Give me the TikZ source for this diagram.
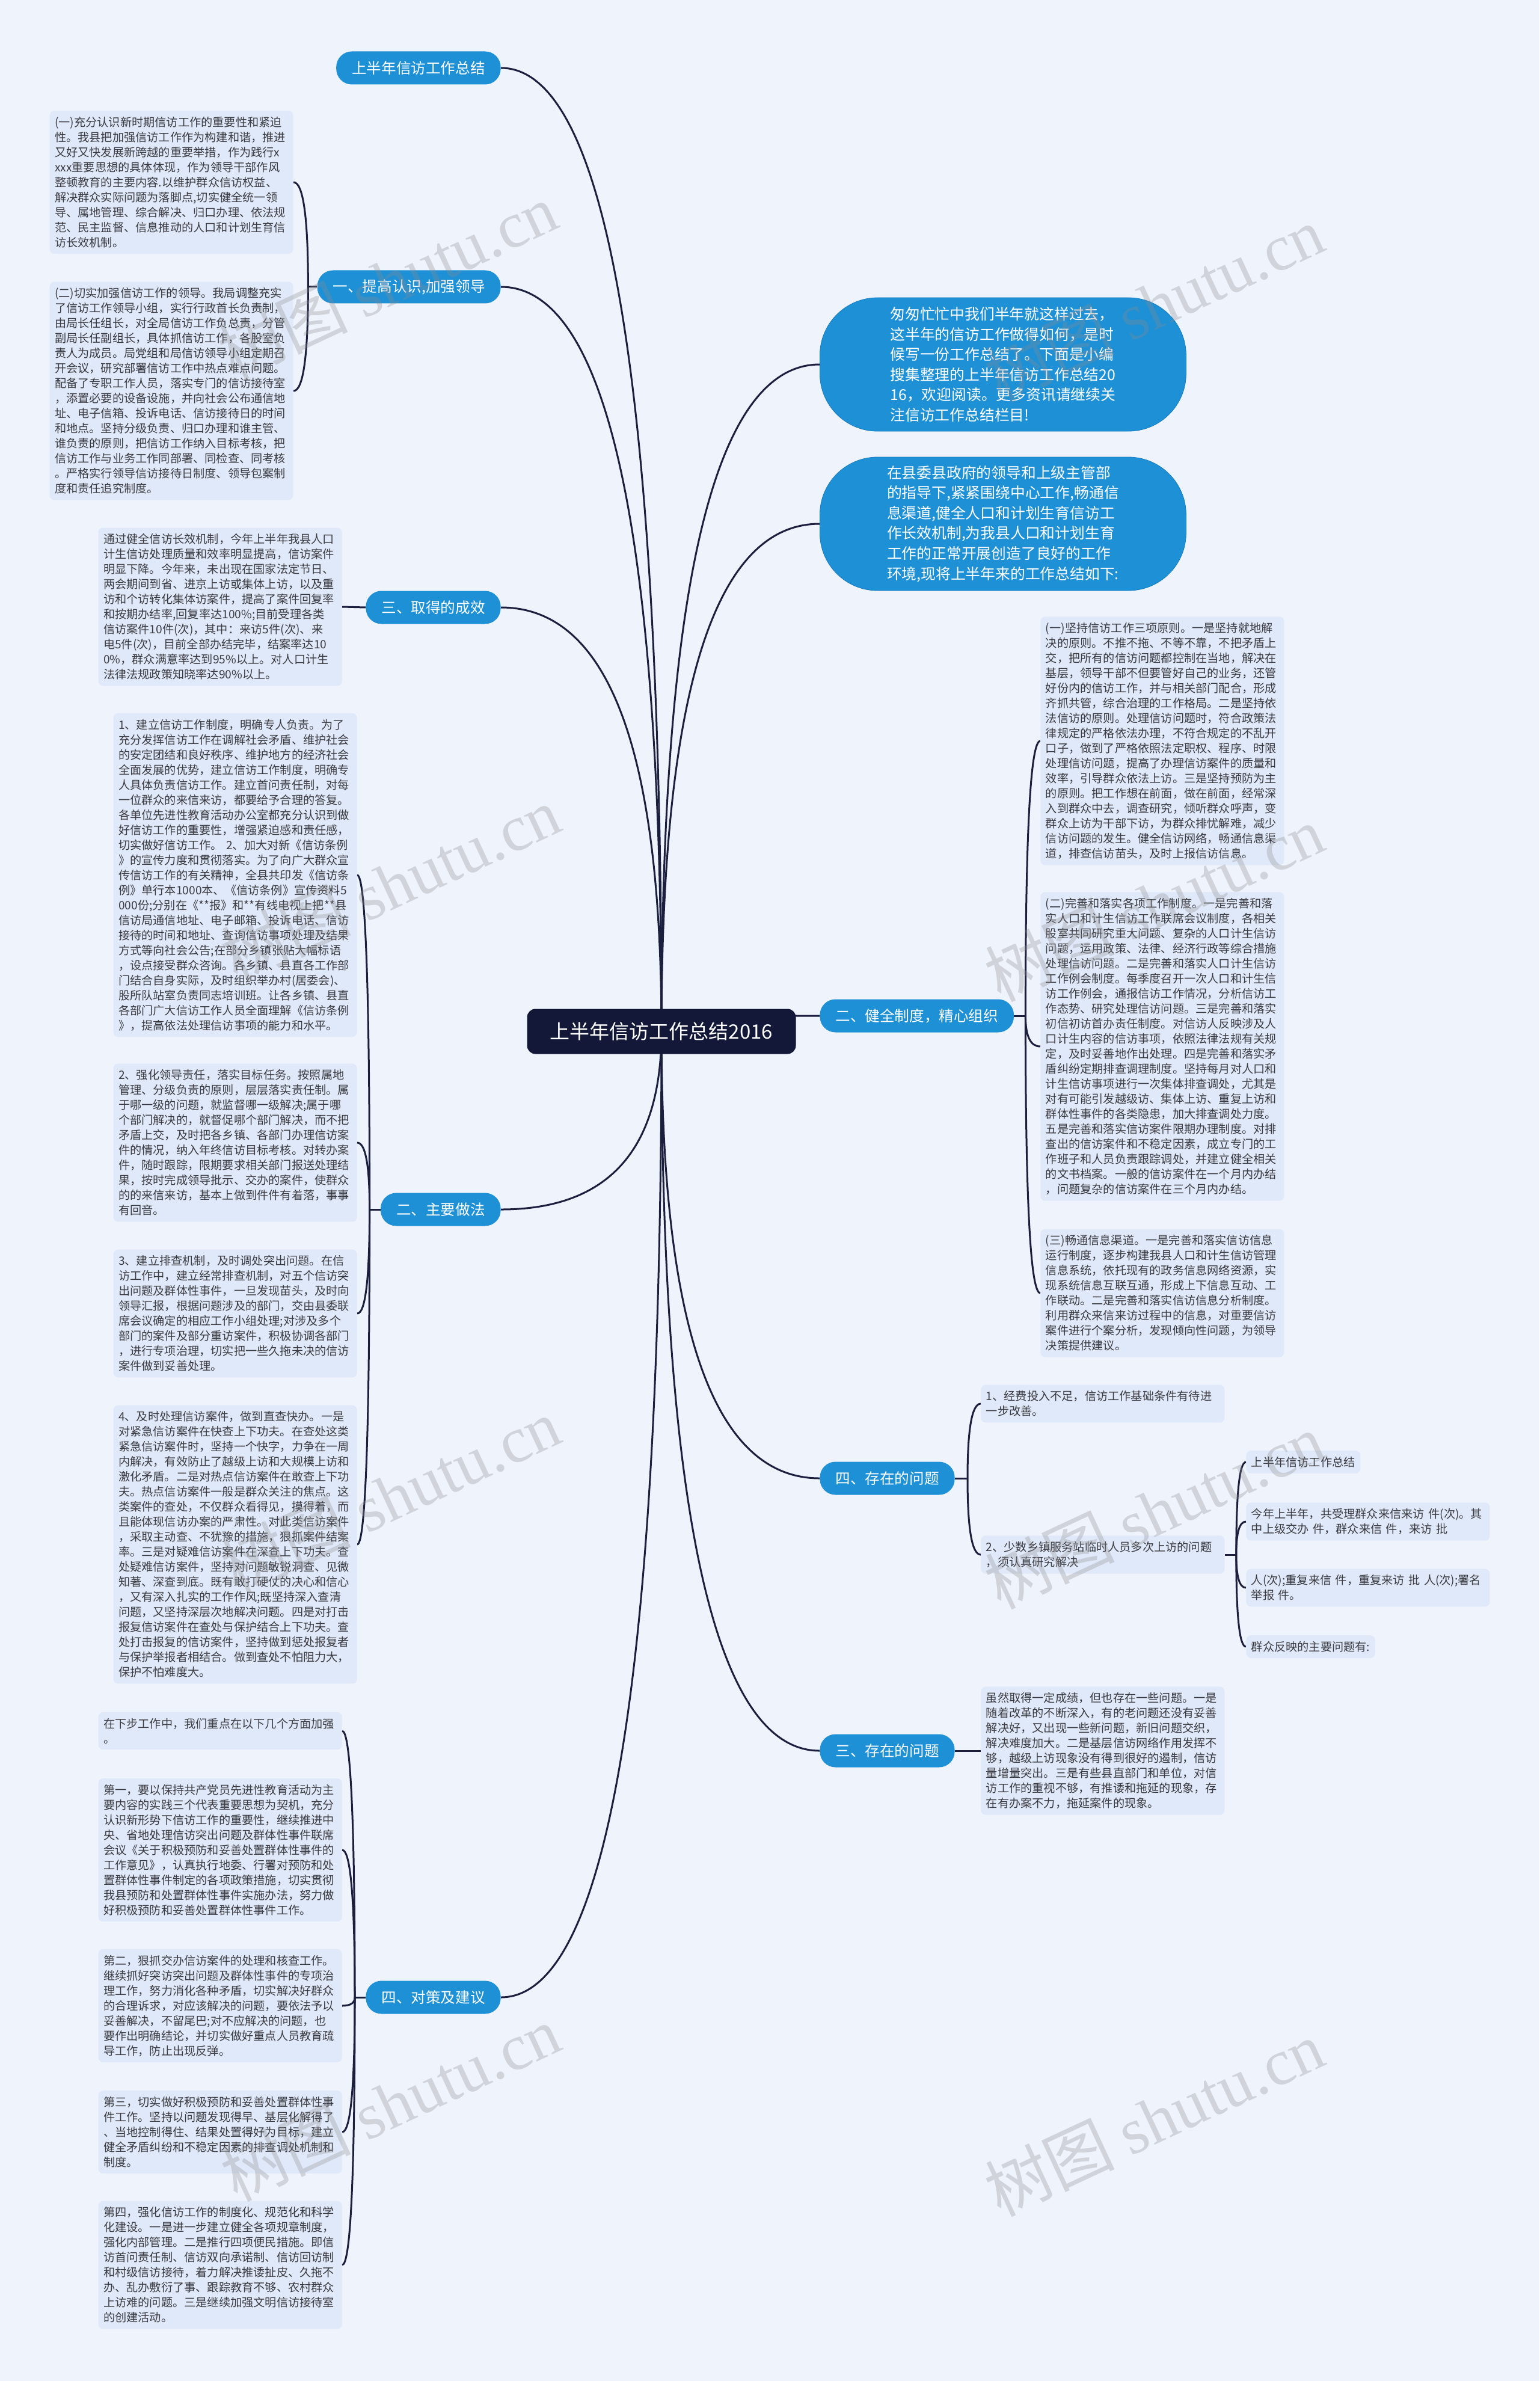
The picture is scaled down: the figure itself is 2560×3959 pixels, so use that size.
\documentclass[tikz,border=0pt]{standalone}
\usepackage{fontspec}
\setmainfont{Noto Sans CJK SC}
\newfontfamily\wmfont{Liberation Serif}
\usetikzlibrary{calc}

\definecolor{pagebg}{RGB}{238,243,252}
\definecolor{leaffill}{RGB}{224,233,249}
\definecolor{pillblue}{RGB}{29,144,214}
\definecolor{pillline}{RGB}{22,122,192}
\definecolor{rootnavy}{RGB}{20,24,56}
\definecolor{wireink}{RGB}{28,30,62}
\definecolor{leafink}{RGB}{58,58,64}

\pgfdeclarelayer{paper}
\pgfdeclarelayer{wires}
\pgfsetlayers{paper,wires,main}

% curved connector: leaves #1 vertically, enters #2 horizontally
\newcommand{\bendwire}[2]{%
  \draw[wire] (#1) .. controls ($(#1)!0.667!(#1 |- #2)$) and ($(#2)!0.667!(#1 |- #2)$) .. (#2);}

\begin{document}
\begin{tikzpicture}[
    x=0.5pt, y=-0.5pt,
    root/.style={rectangle, rounded corners=7pt, fill=rootnavy, text=white, font=\fontsize{16.5}{20}\selectfont, minimum width=223.5pt, minimum height=37.5pt},
    branch/.style={rectangle, rounded corners=13pt, fill=pillblue, text=white, font=\fontsize{12.3}{15}\selectfont, minimum height=27.5pt, inner xsep=13pt},
    bubble/.style={rectangle, rounded corners=48pt, fill=pillblue, draw=pillline, text=white, align=left, font=\fontsize{12.4}{16.8}\selectfont, minimum width=304.5pt, minimum height=111pt},
    card/.style={rectangle, rounded corners=4pt, fill=leaffill, text=leafink, align=left, inner xsep=4.25pt, inner ysep=5pt, font=\fontsize{9.6}{12.5}\selectfont},
    leaf/.style={card, text width=194pt},
    wire/.style={draw=wireink, line width=1.5pt},
    stamp/.style={text=black!45, text opacity=0.3, rotate=25, font=\fontsize{54}{54}\selectfont}
  ]
  \useasboundingbox (0,0) rectangle (2560,3959);
  \begin{pgfonlayer}{paper}
    \fill[pagebg] (0,0) rectangle (2560,3959);
  \end{pgfonlayer}

  % root and main branches
  \node[root] (root) at (1100,1715) {上半年信访工作总结2016};
  \node[branch, anchor=east] (l1) at (833,113) {上半年信访工作总结};
  \node[branch, anchor=east] (l2) at (833,477) {一、提高认识,加强领导};
  \node[branch, anchor=east] (l3) at (833,1010) {三、取得的成效};
  \node[branch, anchor=east] (l4) at (833,2011) {二、主要做法};
  \node[branch, anchor=east] (l5) at (833,3321) {四、对策及建议};
  \node[bubble, anchor=west] (r1) at (1363,606) {匆匆忙忙中我们半年就这样过去，\\这半年的信访工作做得如何，是时\\候写一份工作总结了。下面是小编\\搜集整理的上半年信访工作总结20\\16，欢迎阅读。更多资讯请继续关\\注信访工作总结栏目!};
  \node[bubble, anchor=west] (r2) at (1363,871) {在县委县政府的领导和上级主管部\\的指导下,紧紧围绕中心工作,畅通信\\息渠道,健全人口和计划生育信访工\\作长效机制,为我县人口和计划生育\\工作的正常开展创造了良好的工作\\环境,现将上半年来的工作总结如下:};
  \node[branch, anchor=west] (r3) at (1363,1689) {二、健全制度，精心组织};
  \node[branch, anchor=west] (r4) at (1363,2458) {四、存在的问题};
  \node[branch, anchor=west] (r5) at (1363,2911) {三、存在的问题};

  % left leaves
  \node[leaf, anchor=east] (a1) at (488,303) {(一)充分认识新时期信访工作的重要性和紧迫\\性。我县把加强信访工作作为构建和谐，推进\\又好又快发展新跨越的重要举措，作为践行x\\xxx重要思想的具体体现，作为领导干部作风\\整顿教育的主要内容.以维护群众信访权益、\\解决群众实际问题为落脚点,切实健全统一领\\导、属地管理、综合解决、归口办理、依法规\\范、民主监督、信息推动的人口和计划生育信\\访长效机制。};
  \node[leaf, anchor=east] (a2) at (488,650) {(二)切实加强信访工作的领导。我局调整充实\\了信访工作领导小组，实行行政首长负责制，\\由局长任组长，对全局信访工作负总责，分管\\副局长任副组长，具体抓信访工作，各股室负\\责人为成员。局党组和局信访领导小组定期召\\开会议，研究部署信访工作中热点难点问题。\\配备了专职工作人员，落实专门的信访接待室\\，添置必要的设备设施，并向社会公布通信地\\址、电子信箱、投诉电话、信访接待日的时间\\和地点。坚持分级负责、归口办理和谁主管、\\谁负责的原则，把信访工作纳入目标考核，把\\信访工作与业务工作同部署、同检查、同考核\\。严格实行领导信访接待日制度、领导包案制\\度和责任追究制度。};
  \node[leaf, anchor=east] (b1) at (569,1009) {通过健全信访长效机制，今年上半年我县人口\\计生信访处理质量和效率明显提高，信访案件\\明显下降。今年来，未出现在国家法定节日、\\两会期间到省、进京上访或集体上访，以及重\\访和个访转化集体访案件，提高了案件回复率\\和按期办结率,回复率达100\%;目前受理各类\\信访案件10件(次)，其中：来访5件(次)、来\\电5件(次)，目前全部办结完毕，结案率达10\\0\%，群众满意率达到95\%以上。对人口计生\\法律法规政策知晓率达90\%以上。};
  \node[leaf, anchor=east] (c1) at (594,1455) {1、建立信访工作制度，明确专人负责。为了\\充分发挥信访工作在调解社会矛盾、维护社会\\的安定团结和良好秩序、维护地方的经济社会\\全面发展的优势，建立信访工作制度，明确专\\人具体负责信访工作。建立首问责任制，对每\\一位群众的来信来访，都要给予合理的答复。\\各单位先进性教育活动办公室都充分认识到做\\好信访工作的重要性，增强紧迫感和责任感，\\切实做好信访工作。 2、加大对新《信访条例\\》的宣传力度和贯彻落实。为了向广大群众宣\\传信访工作的有关精神，全县共印发《信访条\\例》单行本1000本、《信访条例》宣传资料5\\000份;分别在《**报》和**有线电视上把**县\\信访局通信地址、电子邮箱、投诉电话、信访\\接待的时间和地址、查询信访事项处理及结果\\方式等向社会公告;在部分乡镇张贴大幅标语\\，设点接受群众咨询。各乡镇、县直各工作部\\门结合自身实际，及时组织举办村(居委会)、\\股所队站室负责同志培训班。让各乡镇、县直\\各部门广大信访工作人员全面理解《信访条例\\》，提高依法处理信访事项的能力和水平。};
  \node[leaf, anchor=east] (c2) at (594,1900) {2、强化领导责任，落实目标任务。按照属地\\管理、分级负责的原则，层层落实责任制。属\\于哪一级的问题，就监督哪一级解决;属于哪\\个部门解决的，就督促哪个部门解决，而不把\\矛盾上交，及时把各乡镇、各部门办理信访案\\件的情况，纳入年终信访目标考核。对转办案\\件，随时跟踪，限期要求相关部门报送处理结\\果，按时完成领导批示、交办的案件，使群众\\的的来信来访，基本上做到件件有着落，事事\\有回音。};
  \node[leaf, anchor=east] (c3) at (594,2184) {3、建立排查机制，及时调处突出问题。在信\\访工作中，建立经常排查机制，对五个信访突\\出问题及群体性事件，一旦发现苗头，及时向\\领导汇报，根据问题涉及的部门，交由县委联\\席会议确定的相应工作小组处理;对涉及多个\\部门的案件及部分重访案件，积极协调各部门\\，进行专项治理，切实把一些久拖未决的信访\\案件做到妥善处理。};
  \node[leaf, anchor=east] (c4) at (594,2568) {4、及时处理信访案件，做到直查快办。一是\\对紧急信访案件在快查上下功夫。在查处这类\\紧急信访案件时，坚持一个快字，力争在一周\\内解决，有效防止了越级上访和大规模上访和\\激化矛盾。二是对热点信访案件在敢查上下功\\夫。热点信访案件一般是群众关注的焦点。这\\类案件的查处，不仅群众看得见，摸得着，而\\且能体现信访办案的严肃性。对此类信访案件\\，采取主动查、不犹豫的措施，狠抓案件结案\\率。三是对疑难信访案件在深查上下功夫。查\\处疑难信访案件，坚持对问题敏锐洞查、见微\\知著、深查到底。既有敢打硬仗的决心和信心\\，又有深入扎实的工作作风;既坚持深入查清\\问题，又坚持深层次地解决问题。四是对打击\\报复信访案件在查处与保护结合上下功夫。查\\处打击报复的信访案件，坚持做到惩处报复者\\与保护举报者相结合。做到查处不怕阻力大，\\保护不怕难度大。};
  \node[leaf, anchor=east] (d1) at (569,2878) {在下步工作中，我们重点在以下几个方面加强\\。};
  \node[leaf, anchor=east] (d2) at (569,3076) {第一，要以保持共产党员先进性教育活动为主\\要内容的实践三个代表重要思想为契机，充分\\认识新形势下信访工作的重要性，继续推进中\\央、省地处理信访突出问题及群体性事件联席\\会议《关于积极预防和妥善处置群体性事件的\\工作意见》，认真执行地委、行署对预防和处\\置群体性事件制定的各项政策措施，切实贯彻\\我县预防和处置群体性事件实施办法，努力做\\好积极预防和妥善处置群体性事件工作。};
  \node[leaf, anchor=east] (d3) at (569,3335) {第二，狠抓交办信访案件的处理和核查工作。\\继续抓好突访突出问题及群体性事件的专项治\\理工作，努力消化各种矛盾，切实解决好群众\\的合理诉求，对应该解决的问题，要依法予以\\妥善解决，不留尾巴;对不应解决的问题，也\\要作出明确结论，并切实做好重点人员教育疏\\导工作，防止出现反弹。};
  \node[leaf, anchor=east] (d4) at (569,3545) {第三，切实做好积极预防和妥善处置群体性事\\件工作。坚持以问题发现得早、基层化解得了\\、当地控制得住、结果处置得好为目标，建立\\健全矛盾纠纷和不稳定因素的排查调处机制和\\制度。};
  \node[leaf, anchor=east] (d5) at (569,3766) {第四，强化信访工作的制度化、规范化和科学\\化建设。一是进一步建立健全各项规章制度，\\强化内部管理。二是推行四项便民措施。即信\\访首问责任制、信访双向承诺制、信访回访制\\和村级信访接待，着力解决推诿扯皮、久拖不\\办、乱办敷衍了事、跟踪教育不够、农村群众\\上访难的问题。三是继续加强文明信访接待室\\的创建活动。};

  % right leaves
  \node[leaf, anchor=west] (e1) at (1730,1232) {(一)坚持信访工作三项原则。一是坚持就地解\\决的原则。不推不拖、不等不靠，不把矛盾上\\交，把所有的信访问题都控制在当地，解决在\\基层，领导干部不但要管好自己的业务，还管\\好份内的信访工作，并与相关部门配合，形成\\齐抓共管，综合治理的工作格局。二是坚持依\\法信访的原则。处理信访问题时，符合政策法\\律规定的严格依法办理，不符合规定的不乱开\\口子，做到了严格依照法定职权、程序、时限\\处理信访问题，提高了办理信访案件的质量和\\效率，引导群众依法上访。三是坚持预防为主\\的原则。把工作想在前面，做在前面，经常深\\入到群众中去，调查研究，倾听群众呼声，变\\群众上访为干部下访，为群众排忧解难，减少\\信访问题的发生。健全信访网络，畅通信息渠\\道，排查信访苗头，及时上报信访信息。};
  \node[leaf, anchor=west] (e2) at (1730,1740) {(二)完善和落实各项工作制度。一是完善和落\\实人口和计生信访工作联席会议制度，各相关\\股室共同研究重大问题、复杂的人口计生信访\\问题，运用政策、法律、经济行政等综合措施\\处理信访问题。二是完善和落实人口计生信访\\工作例会制度。每季度召开一次人口和计生信\\访工作例会，通报信访工作情况，分析信访工\\作态势、研究处理信访问题。三是完善和落实\\初信初访首办责任制度。对信访人反映涉及人\\口计生内容的信访事项，依照法律法规有关规\\定，及时妥善地作出处理。四是完善和落实矛\\盾纠纷定期排查调理制度。坚持每月对人口和\\计生信访事项进行一次集体排查调处，尤其是\\对有可能引发越级访、集体上访、重复上访和\\群体性事件的各类隐患，加大排查调处力度。\\五是完善和落实信访案件限期办理制度。对排\\查出的信访案件和不稳定因素，成立专门的工\\作班子和人员负责跟踪调处，并建立健全相关\\的文书档案。一般的信访案件在一个月内办结\\，问题复杂的信访案件在三个月内办结。};
  \node[leaf, anchor=west] (e3) at (1730,2150) {(三)畅通信息渠道。一是完善和落实信访信息\\运行制度，逐步构建我县人口和计生信访管理\\信息系统，依托现有的政务信息网络资源，实\\现系统信息互联互通，形成上下信息互动、工\\作联动。二是完善和落实信访信息分析制度。\\利用群众来信来访过程中的信息，对重要信访\\案件进行个案分析，发现倾向性问题，为领导\\决策提供建议。};
  \node[leaf, anchor=west] (f1) at (1631,2334) {1、经费投入不足，信访工作基础条件有待进\\一步改善。};
  \node[leaf, anchor=west] (f2) at (1631,2585) {2、少数乡镇服务站临时人员多次上访的问题\\，须认真研究解决};
  \node[card, anchor=west] (g1) at (2072,2431) {上半年信访工作总结};
  \node[leaf, anchor=west] (g2) at (2072,2530) {今年上半年，共受理群众来信来访 件(次)。其\\中上级交办 件，群众来信 件，来访 批};
  \node[leaf, anchor=west] (g3) at (2072,2640) {人(次);重复来信 件，重复来访 批 人(次);署名\\举报 件。};
  \node[card, anchor=west] (g4) at (2072,2738) {群众反映的主要问题有:};
  \node[leaf, anchor=west] (h1) at (1631,2911) {虽然取得一定成绩，但也存在一些问题。一是\\随着改革的不断深入，有的老问题还没有妥善\\解决好，又出现一些新问题，新旧问题交织，\\解决难度加大。二是基层信访网络作用发挥不\\够，越级上访现象没有得到很好的遏制，信访\\量增量突出。三是有些县直部门和单位，对信\\访工作的重视不够，有推诿和拖延的现象，存\\在有办案不力，拖延案件的现象。};

  % junctions of the brackets
  \coordinate (l2j) at ($(l2.west)+(-15,0)$);
  \coordinate (l4j) at ($(l4.west)+(-18,0)$);
  \coordinate (l5j) at ($(l5.west)+(-18,0)$);
  \coordinate (r3j) at ($(r3.east)+(19,0)$);
  \coordinate (r4j) at ($(r4.east)+(21,0)$);
  \coordinate (f2j) at ($(f2.east)+(19,0)$);

  \begin{pgfonlayer}{wires}
    \foreach \t in {l1,l2,l3,l4,l5} {\bendwire{root.center}{\t.east}}
    \foreach \t in {r1,r2,r3,r4,r5} {\bendwire{root.center}{\t.west}}
    \draw[wire] (l2.west) -- (l2j);
    \draw[wire] (l4.west) -- (l4j);
    \draw[wire] (l5.west) -- (l5j);
    \draw[wire] (r3.east) -- (r3j);
    \draw[wire] (r4.east) -- (r4j);
    \draw[wire] (f2.east) -- (f2j);
    \draw[wire] (l3.west) -- (b1.east);
    \draw[wire] (r5.east) -- (h1.west);
    \foreach \c in {a1,a2} {\bendwire{l2j}{\c.east}}
    \foreach \c in {c1,c2,c3,c4} {\bendwire{l4j}{\c.east}}
    \foreach \c in {d1,d2,d3,d4,d5} {\bendwire{l5j}{\c.east}}
    \foreach \c in {e1,e2,e3} {\bendwire{r3j}{\c.west}}
    \foreach \c in {f1,f2} {\bendwire{r4j}{\c.west}}
    \foreach \c in {g1,g2,g3,g4} {\bendwire{f2j}{\c.west}}
  \end{pgfonlayer}

  % watermarks
  \foreach \wx/\wy [count=\i] in {644/467, 1919/505, 649/1470, 1919/1502, 649/2487, 1919/2512, 649/3497, 1919/3522}
    \node[stamp] (wm\i) at (\wx,\wy) {树图 {\wmfont shutu.cn}};
\end{tikzpicture}
\end{document}
